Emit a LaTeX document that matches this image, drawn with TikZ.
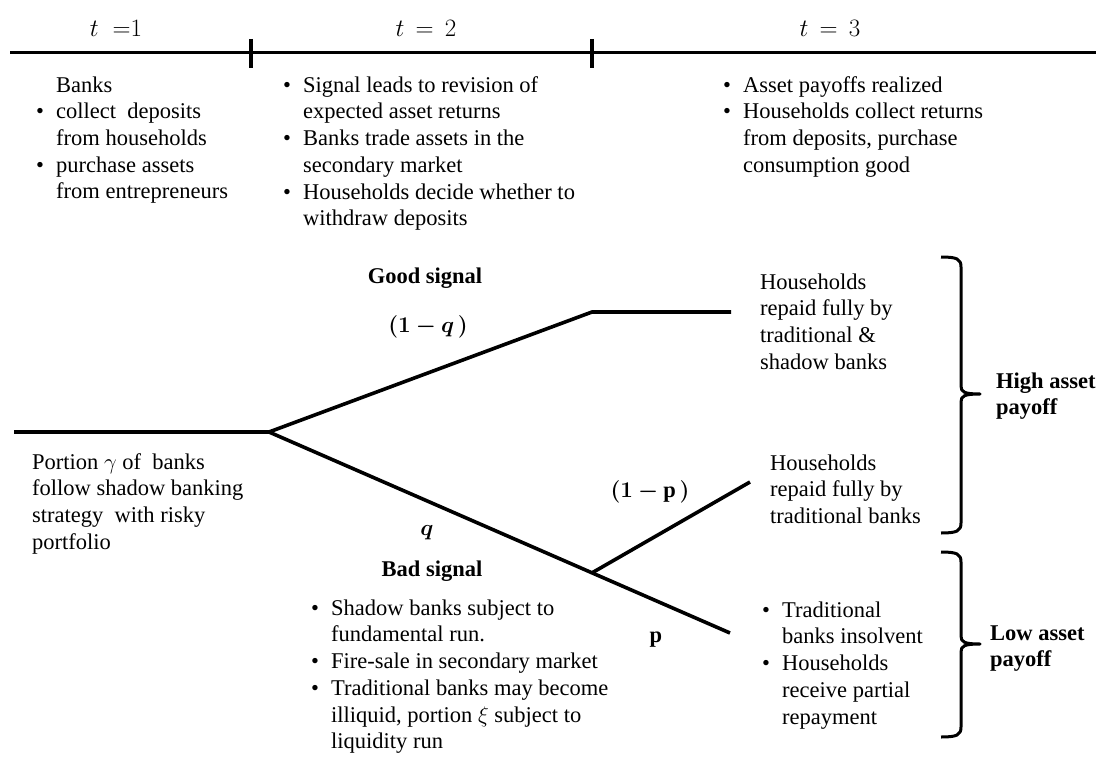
\RequirePackage{fix-cm}
\documentclass[tikz,border=0pt]{standalone}
\usepackage{amsmath,bm}
\usepackage{fontspec}
\setmainfont{Liberation Serif}
\usetikzlibrary{calc}
\newcommand\bl{\makebox[20pt][l]{\textbullet}}
\newcommand\ind{\hspace*{20pt}}
\newcommand\fl{\rule{0pt}{17pt}}
\begin{document}
\begin{tikzpicture}[x=1pt,y=-1pt,
  txt/.style={font=\fontsize{22.5}{26.7}\selectfont, align=left, inner sep=0pt, anchor=north west},
  btxt/.style={txt, font=\fontsize{22.5}{26.7}\selectfont\bfseries},
  lbl/.style={font=\fontsize{22.5}{26.7}\selectfont\bfseries, inner sep=0pt, anchor=base},
  mth/.style={font=\fontsize{22.5}{26.7}\selectfont, inner sep=0pt, anchor=base},
  tlab/.style={font=\fontsize{25}{30}\selectfont, inner sep=0pt, anchor=base},
  axis/.style={line width=3pt},
  tick/.style={line width=4pt},
  tree/.style={line width=3.6pt},
  brace/.style={line width=3pt, line join=round}]
\path[use as bounding box] (0,0) rectangle (1096,757);

% timeline
\coordinate (tlA) at (10,53);
\coordinate (tlB) at (1096,53);
\coordinate (k1t) at (251,39);
\coordinate (k1b) at (251,68);
\coordinate (k2t) at (592,39);
\coordinate (k2b) at (592,68);
\draw[axis] (tlA) -- (tlB);
\draw[tick] (k1t) -- (k1b);
\draw[tick] (k2t) -- (k2b);
\node[tlab] (t1) at (116,37) {$t\;\;{=}1$};
\node[tlab] (t2) at (426,37) {$t\,=\,2$};
\node[tlab] (t3) at (830,37) {$t\,=\,3$};

% column texts
\node[txt] (c1) at (36,75) {\ind\fl Banks\\
\bl collect~ deposits\\
\ind from households\\
\bl purchase assets\\
\ind from entrepreneurs};
\node[txt] (c2) at (283,75) {\bl\fl Signal leads to revision of\\
\ind expected asset returns\\
\bl Banks trade assets in the\\
\ind secondary market\\
\bl Households decide whether to\\
\ind withdraw deposits};
\node[txt] (c3) at (723,75) {\bl\fl Asset payoffs realized\\
\bl Households collect returns\\
\ind from deposits, purchase\\
\ind consumption good};

% tree
\coordinate (root) at (14,432);
\coordinate (fork) at (269,432);
\coordinate (gcorner) at (592,312);
\coordinate (gend) at (731,312);
\coordinate (bend) at (730,633);
\coordinate (bfork) at ($(fork)!0.7007!(bend)$);
\coordinate (bup) at (750,482);
\draw[tree] (root) -- (fork) -- (gcorner) -- (gend);
\draw[tree] (fork) -- (bend);
\draw[tree] (bfork) -- (bup);

\node[txt] (portion) at (32,452) {\fl Portion $\gamma$ of~ banks\\
follow shadow banking\\
strategy~ with risky\\
portfolio};

\node[lbl] (good) at (425,283) {Good signal};
\node[mth] (oq) at (428,332) {$\bm{(1-q\,)}$};
\node[mth] (q) at (427,535) {$\bm{q}$};
\node[lbl] (bad) at (432,576) {Bad signal};
\node[mth] (op) at (650,497) {$\bm{(1-}\mathbf{p}\,\bm{)}$};
\node[mth] (p) at (656,642) {$\mathbf{p}$};

\node[txt] (hh1) at (760,272) {\fl Households\\
repaid fully by\\
traditional \&\\
shadow banks};
\node[txt] (hh2) at (770,453) {\fl Households\\
repaid fully by\\
traditional banks};
\node[txt] (badtxt) at (311,598) {\bl\fl Shadow banks subject to\\
\ind fundamental run.\\
\bl Fire-sale in secondary market\\
\bl Traditional banks may become\\
\ind illiquid, portion $\xi$ subject to\\
\ind liquidity run};
\node[txt] (low) at (762,600) {\bl\fl Traditional\\
\ind banks insolvent\\
\bl Households\\
\ind receive partial\\
\ind repayment};

% braces
\draw[brace] (941,257) .. controls (957,257) and (961,259) .. (961,267) -- (961,386)
  .. controls (961,392) and (964,394) .. (980,394)
  .. controls (964,394) and (961,396) .. (961,402) -- (961,523)
  .. controls (961,531) and (957,533) .. (941,533);
\draw[brace] (941,552) .. controls (957,552) and (961,554) .. (961,562) -- (961,636)
  .. controls (961,642) and (964,644) .. (980,644)
  .. controls (964,644) and (961,646) .. (961,652) -- (961,727)
  .. controls (961,735) and (957,737) .. (941,737);

\node[btxt] (high) at (996,371) {\fl High asset\\ payoff};
\node[btxt] (lowpay) at (990,623) {\fl Low asset\\ payoff};
\end{tikzpicture}
\end{document}
